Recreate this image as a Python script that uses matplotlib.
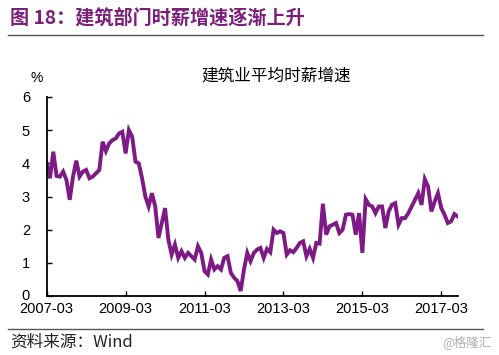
import matplotlib
matplotlib.use("Agg")
import matplotlib.pyplot as plt
from matplotlib.lines import Line2D
from matplotlib.transforms import ScaledTranslation

plt.rcParams['font.family'] = ['Noto Sans CJK SC', 'DejaVu Sans']

# Monthly hourly-wage growth of construction (%), 2007-03 onward
values = [
    4.0, 3.55, 4.35, 3.62, 3.6, 3.75, 3.5, 2.9, 3.6, 4.08,
    3.6, 3.75, 3.8, 3.55, 3.6, 3.7, 3.8, 4.65, 4.37, 4.6,
    4.7, 4.75, 4.9, 4.95, 4.3, 5.0, 4.8, 4.05, 4.0, 3.55,
    3.0, 2.7, 3.1, 2.7, 1.75, 2.2, 2.65, 1.7, 1.25, 1.55,
    1.15, 1.35, 1.15, 1.3, 1.2, 1.1, 1.5, 1.3, 0.75, 0.65,
    1.1, 0.8, 0.9, 0.8, 1.15, 1.2, 0.7, 0.55, 0.45, 0.15,
    0.8, 1.3, 1.05, 1.3, 1.4, 1.45, 1.15, 1.42, 1.32, 2.0,
    1.9, 1.95, 1.9, 1.25, 1.38, 1.32, 1.45, 1.6, 1.65, 1.2,
    1.42, 1.15, 1.6, 1.58, 2.78, 1.85, 2.1, 2.15, 2.2, 1.9,
    2.0, 2.45, 2.47, 2.45, 1.85, 2.5, 1.3, 2.92, 2.75, 2.7,
    2.5, 2.7, 2.7, 2.05, 2.55, 2.75, 2.8, 2.15, 2.35, 2.35,
    2.5, 2.7, 2.9, 3.1, 2.75, 3.52, 3.3, 2.55, 2.85, 3.1,
    2.65, 2.45, 2.2, 2.25, 2.47, 2.4,
]
tick_positions = [0, 24, 48, 72, 96, 120]
tick_labels = ["2007-03", "2009-03", "2011-03", "2013-03", "2015-03", "2017-03"]
y_ticks = [0, 1, 2, 3, 4, 5, 6]

title_text = "图 18：建筑部门时薪增速逐渐上升"
chart_title = "建筑业平均时薪增速"
source_text = "资料来源：Wind"
watermark = "@格隆汇"

W, H = 499, 355
fig = plt.figure(figsize=(W / 100, H / 100), dpi=100)
fig.patch.set_facecolor("white")

ax = fig.add_axes([46.7 / W, 1 - 296 / H, (457.7 - 46.7) / W, (296 - 97) / H])
x = list(range(len(values)))
ax.plot(x, values, color="#7E1A86", linewidth=2.8, solid_joinstyle="miter")
ax.set_xlim(0, 125)
ax.set_ylim(0, 6)
ax.set_yticks(y_ticks)
ax.set_yticklabels([str(v) for v in y_ticks])
ax.set_xticks(tick_positions)
ax.set_xticklabels(tick_labels)
for s in ["top", "right"]:
    ax.spines[s].set_visible(False)
for s in ["left", "bottom"]:
    ax.spines[s].set_linewidth(1.3)
    ax.spines[s].set_color("black")
ax.tick_params(axis="both", direction="in", length=3.5, width=1.0,
               labelsize=10.5, colors="black")
ax.tick_params(axis="y", pad=12)
ax.tick_params(axis="x", pad=4)
for lab in ax.get_xticklabels() + ax.get_yticklabels():
    lab.set_family(["Liberation Sans", "DejaVu Sans"])
# nudge the "0" label up slightly so it sits just above the first date label
zero_lab = ax.get_yticklabels()[0]
zero_lab.set_transform(zero_lab.get_transform() + ScaledTranslation(0, 2 / 100, fig.dpi_scale_trans))

# figure texts
fig.text(10 / W, 1 - 18 / H, title_text, color="#7A1F7A", fontsize=13.8,
         fontweight="bold", ha="left", va="center")
fig.add_artist(Line2D([8 / W, 483 / W], [1 - 35 / H, 1 - 35 / H],
                      color="#555555", linewidth=1.0))
fig.text(276 / W, 1 - 76 / H, chart_title, color="black", fontsize=12,
         ha="center", va="center")
fig.text(37 / W, 1 - 78 / H, "%", color="black", fontsize=10,
         ha="center", va="center", family=["Liberation Sans", "DejaVu Sans"])
fig.add_artist(Line2D([8 / W, 483 / W], [1 - 329 / H, 1 - 329 / H],
                      color="#555555", linewidth=1.0))
fig.text(10 / W, 1 - 342 / H, source_text, color="#222222", fontsize=12,
         ha="left", va="center")
fig.text(492 / W, 1 - 342 / H, watermark, color="#b0b0b0", fontsize=9,
         ha="right", va="center")

fig.savefig("out.png", dpi=100)
